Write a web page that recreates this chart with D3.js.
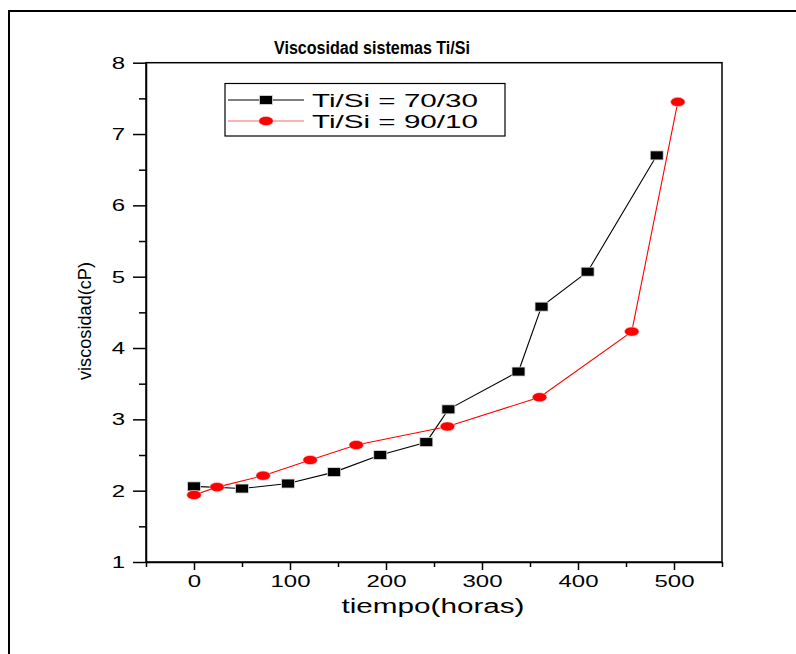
<!DOCTYPE html>
<html>
<head>
<meta charset="utf-8">
<script src="https://cdn.jsdelivr.net/npm/d3@7"></script>
<style>
  html, body { margin: 0; padding: 0; background: #fff; }
  svg { display: block; }
  text { font-family: "Liberation Sans", Arial, sans-serif; }
</style>
</head>
<body>
<svg id="chart" width="796" height="654"></svg>
<script>
// ---- data ----
const chartTitle = "Viscosidad sistemas Ti/Si";
const xTitle = "tiempo(horas)";
const yTitle = "viscosidad(cP)";
const seriesNames = ["Ti/Si = 70/30", "Ti/Si = 90/10"];
const time7030 = [0, 50, 98, 146, 194, 242, 265, 338, 362, 410, 482];
const visc7030 = [2.06, 2.03, 2.10, 2.26, 2.50, 2.68, 3.14, 3.67, 4.58, 5.07, 6.70];
const time9010 = [0, 24, 72, 121, 169, 264, 360, 456, 504];
const visc9010 = [1.94, 2.05, 2.21, 2.43, 2.64, 2.90, 3.31, 4.23, 7.45];
const xTicks = [0, 100, 200, 300, 400, 500];
const xMinorTicks = [-50, 50, 150, 250, 350, 450, 550];
const yTicks = [1, 2, 3, 4, 5, 6, 7, 8];
const yMinorTicks = [1.5, 2.5, 3.5, 4.5, 5.5, 6.5, 7.5];

// ---- layout ----
const svg = d3.select("#chart");
const L = 146, R = 722, T = 62.7, B = 562;
const SX = 1.5; // horizontal text stretch seen in the reference

const x = d3.scaleLinear().domain([-50, 550]).range([L, R]);
const y = d3.scaleLinear().domain([1, 8]).range([B, T]);

// outer frame
svg.append("line").attr("x1", 9).attr("x2", 796).attr("y1", 11).attr("y2", 11)
  .attr("stroke", "#000").attr("stroke-width", 2);
svg.append("line").attr("x1", 9).attr("x2", 9).attr("y1", 10).attr("y2", 654)
  .attr("stroke", "#000").attr("stroke-width", 2);

// plot box (top / right mirror lines)
svg.append("rect").attr("x", L).attr("y", T).attr("width", R - L).attr("height", B - T)
  .attr("fill", "none").attr("stroke", "#000").attr("stroke-width", 1.5);

// x axis
const gx = svg.append("g").attr("transform", `translate(0,${B})`)
  .call(d3.axisBottom(x).tickValues(xTicks).tickSize(8).tickSizeOuter(0).tickFormat(d3.format("d")));
gx.select(".domain").attr("stroke-width", 1.5);
gx.selectAll(".tick line").attr("stroke-width", 1.5);
gx.selectAll(".tick text")
  .attr("font-size", 16).attr("font-family", "Liberation Sans, Arial, sans-serif")
  .attr("fill", "#000").attr("y", 25).attr("dy", 0)
  .attr("transform", `scale(${SX},1)`);
const gxm = svg.append("g").attr("transform", `translate(0,${B})`)
  .call(d3.axisBottom(x).tickValues(xMinorTicks).tickSize(5).tickSizeOuter(0).tickFormat(""));
gxm.select(".domain").remove();
gxm.selectAll(".tick line").attr("stroke-width", 1.5);

// y axis
const gy = svg.append("g").attr("transform", `translate(${L},0)`)
  .call(d3.axisLeft(y).tickValues(yTicks).tickSize(13).tickSizeOuter(0).tickFormat(d3.format("d")));
gy.select(".domain").attr("stroke-width", 1.5);
gy.selectAll(".tick line").attr("stroke-width", 1.5);
gy.selectAll(".tick text")
  .attr("font-size", 16).attr("font-family", "Liberation Sans, Arial, sans-serif")
  .attr("fill", "#000").attr("x", -21 / SX).attr("dy", "0.35em")
  .attr("transform", `scale(${SX},1)`);
const gym = svg.append("g").attr("transform", `translate(${L},0)`)
  .call(d3.axisLeft(y).tickValues(yMinorTicks).tickSize(7).tickSizeOuter(0).tickFormat(""));
gym.select(".domain").remove();
gym.selectAll(".tick line").attr("stroke-width", 1.5);

// titles
svg.append("text").attr("x", 372).attr("y", 54).attr("text-anchor", "middle")
  .attr("font-size", 18).attr("font-weight", "bold")
  .attr("textLength", 196).attr("lengthAdjust", "spacingAndGlyphs").text(chartTitle);
svg.append("text").attr("x", 433).attr("y", 613).attr("text-anchor", "middle")
  .attr("font-size", 20).attr("textLength", 183).attr("lengthAdjust", "spacingAndGlyphs")
  .text(xTitle);
svg.append("text").attr("transform", "translate(91,321) rotate(-90)")
  .attr("text-anchor", "middle").attr("font-size", 19)
  .attr("textLength", 118).attr("lengthAdjust", "spacingAndGlyphs")
  .text(yTitle);

// series
const series = [
  { t: time7030, v: visc7030, color: "#000", marker: "square", name: seriesNames[0] },
  { t: time9010, v: visc9010, color: "#ff0000", marker: "circle", name: seriesNames[1] }
];
const line = d3.line().x(d => x(d[0])).y(d => y(d[1]));

function drawMarker(g, cx, cy, s) {
  if (s.marker === "square") {
    g.append("rect").attr("x", cx - 6.5).attr("y", cy - 4.5).attr("width", 13).attr("height", 9)
      .attr("fill", "#000").attr("stroke", "#ddd").attr("stroke-width", 0.8);
  } else {
    g.append("ellipse").attr("cx", cx).attr("cy", cy).attr("rx", 7.3).attr("ry", 4.6)
      .attr("fill", "#ff0000").attr("stroke", "#ffd0d0").attr("stroke-width", 0.6);
  }
}

series.forEach(s => {
  const pts = s.t.map((t, i) => [t, s.v[i]]);
  svg.append("path").datum(pts).attr("d", line).attr("fill", "none")
    .attr("stroke", s.color).attr("stroke-width", 1.1);
});
series.forEach(s => {
  const g = svg.append("g");
  s.t.forEach((t, i) => drawMarker(g, x(t), y(s.v[i]), s));
});

// legend
svg.append("rect").attr("x", 225).attr("y", 83.5).attr("width", 280).attr("height", 52.5)
  .attr("fill", "#fff").attr("stroke", "#000").attr("stroke-width", 1.2);
series.forEach((s, i) => {
  const ly = 100 + i * 21;
  const g = svg.append("g");
  g.append("line").attr("x1", 228).attr("x2", 304).attr("y1", ly).attr("y2", ly)
    .attr("stroke", s.color).attr("stroke-width", 1.1).attr("stroke-opacity", i === 1 ? 0.6 : 1);
  drawMarker(g, 266, ly, s);
  g.append("text").attr("x", 312).attr("y", ly + 6.5).attr("font-size", 18)
    .attr("textLength", 166).attr("lengthAdjust", "spacingAndGlyphs").text(s.name);
});
</script>
</body>
</html>
